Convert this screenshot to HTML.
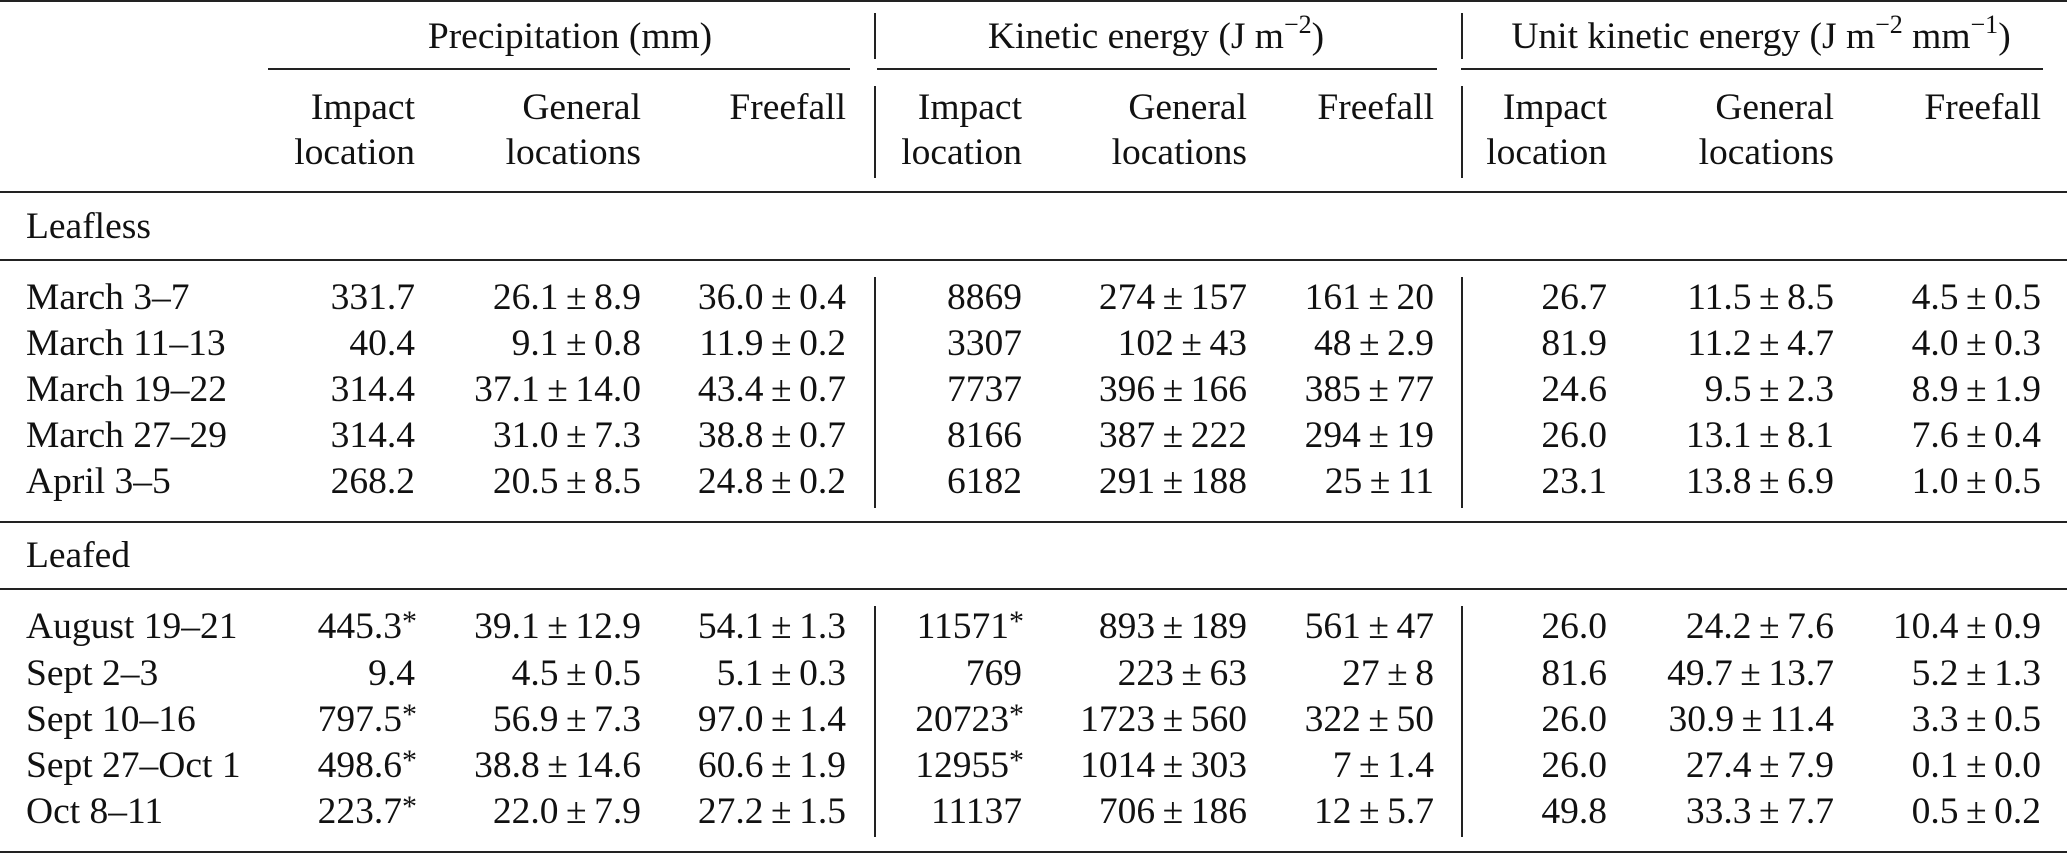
<!DOCTYPE html>
<html><head><meta charset="utf-8">
<style>
body{margin:0;width:2067px;height:854px;background:#fff;position:relative;overflow:hidden;font-family:"Liberation Serif",serif;color:#111;}
.t{position:absolute;font-size:37.5px;line-height:44px;white-space:nowrap;}
.r{text-align:right;}
.hl{position:absolute;background:#222;height:2px;}
.vl{position:absolute;background:#222;width:1.5px;}
sup{font-size:26px;vertical-align:0;position:relative;top:-15px;}
</style></head>
<body>
<div class="hl" style="left:0;width:2067px;top:0px"></div>
<div class="hl" style="left:268px;width:582px;top:68px;height:1.5px"></div>
<div class="hl" style="left:877px;width:560px;top:68px;height:1.5px"></div>
<div class="hl" style="left:1461px;width:582px;top:68px;height:1.5px"></div>
<div class="hl" style="left:0;width:2067px;top:191px"></div>
<div class="hl" style="left:0;width:2067px;top:259px;height:1.5px"></div>
<div class="hl" style="left:0;width:2067px;top:521px;height:1.5px"></div>
<div class="hl" style="left:0;width:2067px;top:588px;height:1.5px"></div>
<div class="hl" style="left:0;width:2067px;top:851px"></div>

<div class="t" style="left:320px;width:500px;text-align:center;top:15px">Precipitation (mm)</div>
<div class="t" style="left:856px;width:600px;text-align:center;top:15px">Kinetic energy (J m<sup>−2</sup>)</div>
<div class="t" style="left:1411px;width:700px;text-align:center;top:15px">Unit kinetic energy (J m<sup>−2</sup> mm<sup>−1</sup>)</div>

<div class="t" style="left:26px;top:205px">Leafless</div>
<div class="t" style="left:26px;top:534px">Leafed</div>

<div id="grid"></div>
<script>
const rights=[415,641,846,1022,1247,1434,1607,1834,2041];
const vlines=[874,1461];
const subHead1=["Impact","General","Freefall","Impact","General","Freefall","Impact","General","Freefall"];
const subHead2=["location","locations","","location","locations","","location","locations",""];
const labels=["March 3–7","March 11–13","March 19–22","March 27–29","April 3–5","August 19–21","Sept 2–3","Sept 10–16","Sept 27–Oct 1","Oct 8–11"];
const precipImpact=["331.7","40.4","314.4","314.4","268.2","445.3*","9.4","797.5*","498.6*","223.7*"];
const precipGeneral=["26.1 ± 8.9","9.1 ± 0.8","37.1 ± 14.0","31.0 ± 7.3","20.5 ± 8.5","39.1 ± 12.9","4.5 ± 0.5","56.9 ± 7.3","38.8 ± 14.6","22.0 ± 7.9"];
const precipFree=["36.0 ± 0.4","11.9 ± 0.2","43.4 ± 0.7","38.8 ± 0.7","24.8 ± 0.2","54.1 ± 1.3","5.1 ± 0.3","97.0 ± 1.4","60.6 ± 1.9","27.2 ± 1.5"];
const keImpact=["8869","3307","7737","8166","6182","11571*","769","20723*","12955*","11137"];
const keGeneral=["274 ± 157","102 ± 43","396 ± 166","387 ± 222","291 ± 188","893 ± 189","223 ± 63","1723 ± 560","1014 ± 303","706 ± 186"];
const keFree=["161 ± 20","48 ± 2.9","385 ± 77","294 ± 19","25 ± 11","561 ± 47","27 ± 8","322 ± 50","7 ± 1.4","12 ± 5.7"];
const ukeImpact=["26.7","81.9","24.6","26.0","23.1","26.0","81.6","26.0","26.0","49.8"];
const ukeGeneral=["11.5 ± 8.5","11.2 ± 4.7","9.5 ± 2.3","13.1 ± 8.1","13.8 ± 6.9","24.2 ± 7.6","49.7 ± 13.7","30.9 ± 11.4","27.4 ± 7.9","33.3 ± 7.7"];
const ukeFree=["4.5 ± 0.5","4.0 ± 0.3","8.9 ± 1.9","7.6 ± 0.4","1.0 ± 0.5","10.4 ± 0.9","5.2 ± 1.3","3.3 ± 0.5","0.1 ± 0.0","0.5 ± 0.2"];
const cols=[precipImpact,precipGeneral,precipFree,keImpact,keGeneral,keFree,ukeImpact,ukeGeneral,ukeFree];
const rowY=[298,344,390,436,482,627,674,720,766,812];
const g=document.getElementById('grid');
function txt(s,right,yc){
  const d=document.createElement('div');
  d.className='t r';
  d.style.left=(right-300)+'px';d.style.width='300px';d.style.top=(yc-22)+'px';
  d.textContent=s.replace(/ ± /g,'\u2009±\u2009');
  g.appendChild(d);return d;
}
rights.forEach((r,i)=>{
  const a=txt(subHead1[i],r,108);
  
  
  if(subHead2[i]){const b=txt(subHead2[i],r,153);
  
  }
});
labels.forEach((l,ri)=>{
  const d=document.createElement('div');
  d.className='t';d.style.left='26px';d.style.top=(rowY[ri]-22)+'px';d.textContent=l;
  
  
  g.appendChild(d);
  cols.forEach((c,ci)=>{
    const v=c[ri];
    const e=txt(v.replace('*',''),rights[ci]-(v.endsWith('*')?13:0),rowY[ri]);
    if(v.endsWith('*')){const s=document.createElement('span');s.textContent='*';s.style.cssText='position:absolute;right:-15px;top:-5px;font-size:30px';e.appendChild(s);}
    
    
  });
});
const spans=[[13,59],[86,178],[277,508],[606,837]];
vlines.forEach(x=>spans.forEach(s=>{
  const v=document.createElement('div');
  v.className='vl';v.style.left=x+'px';v.style.top=s[0]+'px';v.style.height=(s[1]-s[0])+'px';
  
  
  g.appendChild(v);
}));
</script>
</body></html>
